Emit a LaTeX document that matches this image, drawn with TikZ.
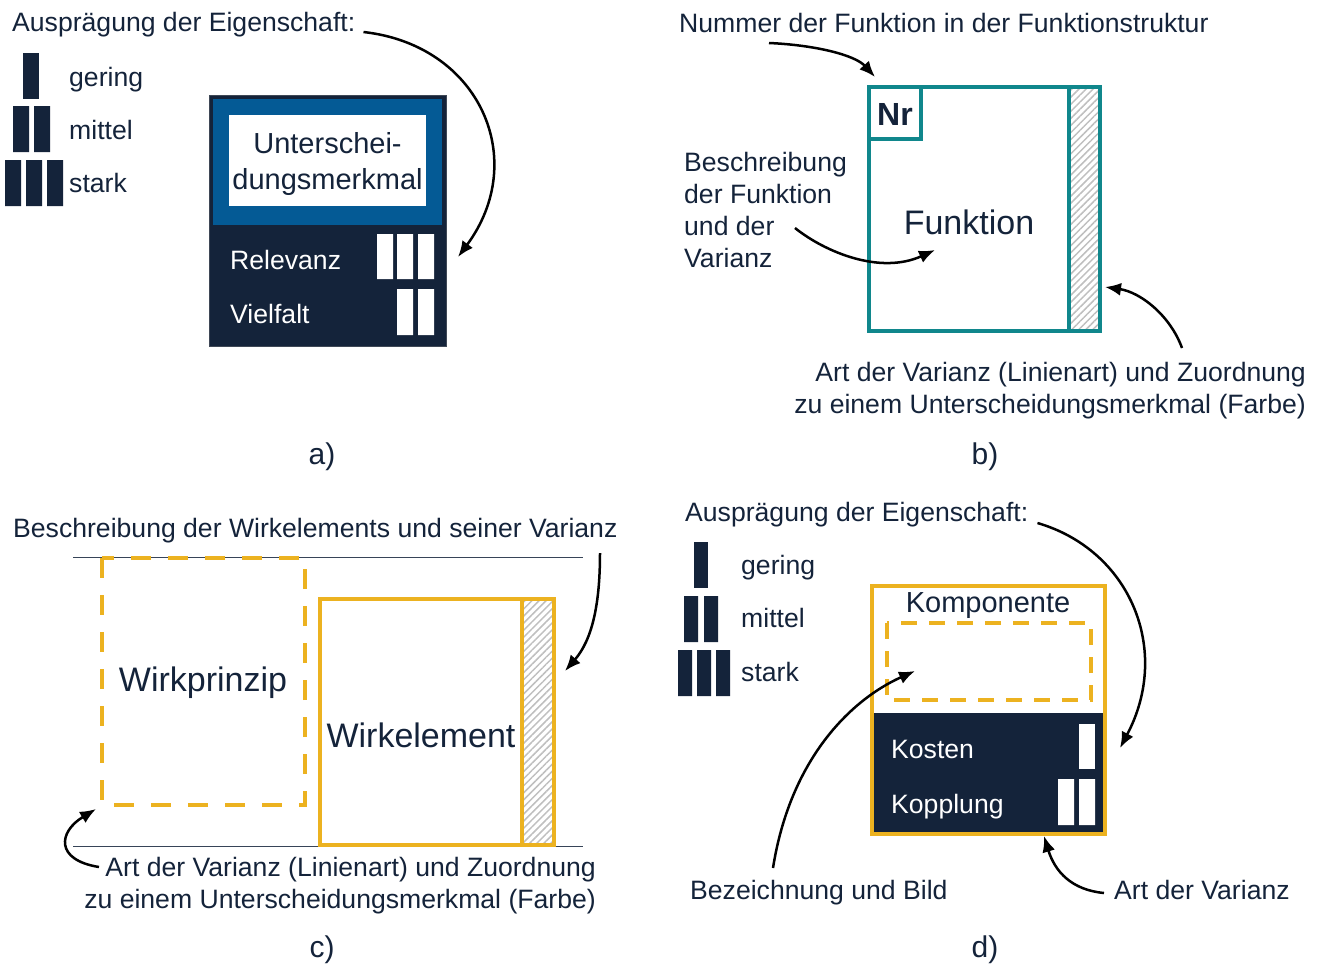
\documentclass[tikz,border=0pt]{standalone}
\usepackage{fontspec}
\setmainfont{Liberation Sans}
\usetikzlibrary{arrows.meta,patterns.meta}

\definecolor{navy}{HTML}{14233A}
\definecolor{mblue}{HTML}{045A95}
\definecolor{tealc}{HTML}{10878C}
\definecolor{gold}{HTML}{ECB220}

\tikzset{
  lbl/.style={font=\fontsize{26.6}{32}\selectfont, text=navy, inner sep=0pt},
  wlbl/.style={lbl, text=white},
  big/.style={font=\fontsize{34}{40}\selectfont, text=navy, inner sep=0pt},
  mid/.style={font=\fontsize{29}{36}\selectfont, text=navy, inner sep=0pt},
  sublbl/.style={font=\fontsize{30}{36}\selectfont, text=navy, inner sep=0pt},
  arr/.style={line width=2.5pt, -{Latex[length=16pt,width=13pt]}},
  hatch/.style={fill=gray!10, pattern={Lines[angle=45,distance=5pt,line width=1.5pt]}, pattern color=gray!50},
  tealbox/.style={draw=tealc, line width=4pt},
  goldbox/.style={draw=gold, line width=4pt},
  golddash/.style={draw=gold, line width=4pt, dash pattern=on 20pt off 17pt},
  rule/.style={draw=navy!85, line width=1pt},
}

\begin{document}
\begin{tikzpicture}[x=1pt,y=-1pt]
\useasboundingbox (0,0) rectangle (1317,970);

% ---------------- a) ----------------
\node[lbl, anchor=base west] (eigA) at (12,31) {Ausprägung der Eigenschaft:};
\fill[navy] (23,53) rectangle (39,99);
\fill[navy] (13,106) rectangle (29,152) (34,106) rectangle (50,152);
\fill[navy] (5,160) rectangle (21,206) (26,160) rectangle (42,206) (47,160) rectangle (63,206);
\node[lbl, anchor=base west] (geringA) at (69,86) {gering};
\node[lbl, anchor=base west] (mittelA) at (69,139) {mittel};
\node[lbl, anchor=base west] (starkA) at (69,192) {stark};

\draw[fill=navy, draw=navy!60!gray, line width=1pt] (209,95) rectangle (446,346);
\fill[mblue] (213,99) rectangle (442,225);
\fill[white] (229,115) rectangle (426,206);
\node[mid, align=center] (umerk) at (327.5,164) {Unterschei-\\dungsmerkmal};
\node[wlbl, anchor=base west] (relev) at (230,269) {Relevanz};
\node[wlbl, anchor=base west] (vielf) at (230,323) {Vielfalt};
\fill[white] (377,234) rectangle (393,279) (397,234) rectangle (413,279) (418,234) rectangle (434,279);
\fill[white] (397,289) rectangle (413,335) (418,289) rectangle (434,335);
\coordinate (tipA) at (458,257);
\draw[arr] ([xshift=8pt,yshift=-1pt]eigA.base east) .. controls (480,45) and (530,160) .. (tipA);

\node[sublbl] (labA) at (322,457) {a)};

% ---------------- b) ----------------
\node[lbl, anchor=base west] (numB) at (679,32) {Nummer der Funktion in der Funktionstruktur};
\fill[hatch] (1069,87) rectangle (1100,331);
\draw[tealbox] (869,87) rectangle (1100,331);
\draw[tealbox] (1069,87) -- (1069,331);
\draw[tealbox] (869,87) rectangle (921,139);
\node[font=\fontsize{32}{36}\selectfont\bfseries, text=navy, inner sep=0pt] (nr) at (895,114) {Nr};
\node[big] (funk) at (969,222) {Funktion};
\node[lbl, anchor=base west, align=left] (beschrB) at (684,267)
  {Beschreibung\\der Funktion\\und der\\Varianz};
\node[lbl, anchor=base east, align=right] (artB) at (1306,413)
  {Art der Varianz (Linienart) und Zuordnung\\zu einem Unterscheidungsmerkmal (Farbe)};
\coordinate (b1s) at (769,43);
\coordinate (b1t) at (875,77);
\coordinate (b2s) at (795,228);
\coordinate (b2t) at (935,250);
\coordinate (b3s) at (1182,348);
\coordinate (b3t) at (1105,287);
\draw[arr] (b1s) .. controls (815,45) and (855,55) .. (b1t);
\draw[arr] (b2s) .. controls (825,252) and (880,275) .. (b2t);
\draw[arr] (b3s) .. controls (1170,315) and (1140,292) .. (b3t);

\node[sublbl] (labB) at (985,457) {b)};

% ---------------- c) ----------------
\node[lbl, anchor=base west] (beschrC) at (13,537) {Beschreibung der Wirkelements und seiner Varianz};
\draw[rule] (73,557) -- (583,557);
\draw[rule] (73,846) -- (583,846);
\draw[golddash] (102,558) rectangle (305,805);
\node[big] (wp) at (203,683) {Wirkprinzip};
\fill[hatch] (522,599) rectangle (554,845);
\draw[goldbox] (320,599) rectangle (554,845);
\draw[goldbox] (522,599) -- (522,845);
\node[big] (we) at (421,735) {Wirkelement};
\node[lbl, anchor=base east, align=right] (artC) at (596,908)
  {Art der Varianz (Linienart) und Zuordnung\\zu einem Unterscheidungsmerkmal (Farbe)};
\coordinate (c1s) at (600,553);
\coordinate (c1t) at (565,671);
\coordinate (c2s) at (99,867);
\coordinate (c2t) at (96,809);
\draw[arr] (c1s) .. controls (600,605) and (592,640) .. (c1t);
\draw[arr] (c2s) .. controls (55,860) and (58,832) .. (c2t);

\node[sublbl] (labC) at (322,950) {c)};

% ---------------- d) ----------------
\node[lbl, anchor=base west] (eigD) at (685,521) {Ausprägung der Eigenschaft:};
\fill[navy] (694,542) rectangle (708,588);
\fill[navy] (684,596) rectangle (698,642) (704,596) rectangle (718,642);
\fill[navy] (678,650) rectangle (692,696) (697,650) rectangle (711,696) (716,650) rectangle (730,696);
\node[lbl, anchor=base west] (geringD) at (741,574) {gering};
\node[lbl, anchor=base west] (mittelD) at (741,627) {mittel};
\node[lbl, anchor=base west] (starkD) at (741,681) {stark};

\fill[navy] (872,713) rectangle (1105,834);
\draw[goldbox, line width=3.5pt] (872,586) rectangle (1105,834);
\draw[golddash, line width=3.5pt, dash pattern=on 16pt off 12pt] (887,623) rectangle (1091,700);
\node[mid] (komp) at (988,606) {Komponente};
\node[wlbl, anchor=base west] (kost) at (891,758) {Kosten};
\node[wlbl, anchor=base west] (kopp) at (891,813) {Kopplung};
\fill[white] (1079,724) rectangle (1095,769);
\fill[white] (1058,779) rectangle (1074,825) (1079,779) rectangle (1095,825);
\node[lbl, anchor=base west] (bezD) at (690,899) {Bezeichnung und Bild};
\node[lbl, anchor=base west] (artD) at (1114,899) {Art der Varianz};
\coordinate (d1t) at (1120,748);
\coordinate (d2s) at (773,868);
\coordinate (d2t) at (915,671);
\coordinate (d3s) at (1104,893);
\coordinate (d3t) at (1044,836);
\draw[arr] ([xshift=9pt,yshift=-2pt]eigD.base east) .. controls (1130,550) and (1172,650) .. (d1t);
\draw[arr] (d2s) .. controls (790,760) and (850,700) .. (d2t);
\draw[arr] (d3s) .. controls (1072,890) and (1055,872) .. (d3t);

\node[sublbl] (labD) at (985,950) {d)};
\end{tikzpicture}
\end{document}
